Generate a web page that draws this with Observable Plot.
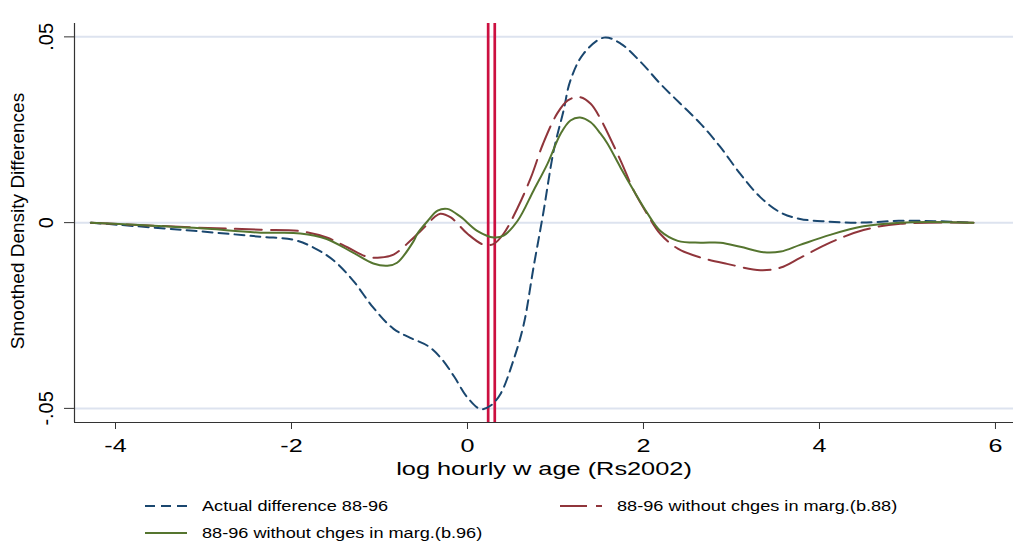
<!DOCTYPE html>
<html>
<head>
<meta charset="utf-8">
<script src="https://cdn.jsdelivr.net/npm/d3@7"></script>
<script src="https://cdn.jsdelivr.net/npm/@observablehq/plot@0.6"></script>
<style>
  html, body { margin: 0; padding: 0; background: white; }
  body { width: 1016px; height: 552px; overflow: hidden; font-family: "Liberation Sans", Arial, sans-serif; }
  #legend { position: relative; width: 1016px; height: 72px; }
  .key { position: absolute; }
  .lab { position: absolute; font-size: 15.5px; color: #000; transform-origin: left center; transform: scaleX(1.17); white-space: nowrap; line-height: 18px; }
</style>
</head>
<body>
<div id="chart"></div>
<div id="legend"></div>
<script>
// ---- data ----
const xTicks = [-4, -2, 0, 2, 4, 6];
const xTickLabels = ["-4", "-2", "0", "2", "4", "6"];
const yTicks = [-0.05, 0, 0.05];
const yTickLabels = ["-.05", "0", ".05"];
const refLines = [0.235, 0.31];
const xTitle = "log hourly w age (Rs2002)";
const yTitle = "Smoothed Density Differences";
const seriesNames = ["Actual difference 88-96", "88-96 without chges in marg.(b.88)", "88-96 without chges in marg.(b.96)"];

const actualX = [-4.28, -3.11, -2.35, -1.98, -1.75, -1.52, -1.30, -1.07, -0.84, -0.65, -0.45, -0.30, -0.15, 0.0, 0.15, 0.26, 0.375, 0.52, 0.64, 0.75, 0.86, 0.98, 1.09, 1.17, 1.32, 1.55, 1.74, 1.97, 2.19, 2.42, 2.65, 2.875, 3.10, 3.33, 3.56, 3.78, 4.09, 4.47, 4.9, 5.3, 5.75];
const actualY = [0, -0.0022, -0.0038, -0.0046, -0.0067, -0.0102, -0.0156, -0.0229, -0.0286, -0.031, -0.0332, -0.0365, -0.0415, -0.0471, -0.0502, -0.0493, -0.0461, -0.0372, -0.0273, -0.0121, 0.0024, 0.0194, 0.030, 0.0383, 0.0455, 0.0498, 0.0482, 0.0432, 0.0374, 0.032, 0.0266, 0.0203, 0.0131, 0.0068, 0.0027, 0.0010, 0.0003, 0.0, 0.0005, 0.0004, 0];

const b88X = [-4.28, -3.11, -2.35, -1.9, -1.6, -1.36, -1.14, -0.99, -0.84, -0.65, -0.53, -0.45, -0.38, -0.31, -0.19, 0.0, 0.19, 0.30, 0.41, 0.57, 0.72, 0.86, 1.02, 1.14, 1.27, 1.40, 1.51, 1.74, 1.89, 2.04, 2.19, 2.39, 2.65, 2.95, 3.33, 3.56, 3.78, 4.12, 4.5, 4.92, 5.75];
const b88Y = [0, -0.0013, -0.0019, -0.0023, -0.004, -0.0067, -0.0092, -0.0094, -0.0086, -0.0049, -0.0022, -0.0003, 0.0014, 0.0024, 0.0014, -0.003, -0.006, -0.0057, -0.003, 0.004, 0.0121, 0.0213, 0.0294, 0.0329, 0.0338, 0.032, 0.028, 0.0167, 0.0086, 0.0024, -0.003, -0.007, -0.0094, -0.0111, -0.0128, -0.0121, -0.0095, -0.0054, -0.002, -0.0003, 0];

const b96X = [-4.28, -3.11, -2.35, -1.9, -1.6, -1.3, -1.07, -0.91, -0.80, -0.61, -0.57, -0.45, -0.34, -0.23, -0.08, 0.11, 0.30, 0.41, 0.57, 0.75, 0.91, 1.06, 1.17, 1.28, 1.40, 1.51, 1.59, 1.74, 1.89, 2.04, 2.19, 2.39, 2.65, 2.875, 3.10, 3.37, 3.56, 3.78, 4.12, 4.5, 4.92, 5.75];
const b96Y = [0, -0.0014, -0.0027, -0.0029, -0.0044, -0.0081, -0.011, -0.0116, -0.0108, -0.0049, -0.003, 0.0005, 0.0032, 0.0037, 0.0016, -0.0022, -0.004, -0.0035, 0.0005, 0.0086, 0.0159, 0.024, 0.0275, 0.0283, 0.027, 0.024, 0.0213, 0.0148, 0.0086, 0.0027, -0.0022, -0.0049, -0.0054, -0.0054, -0.0065, -0.008, -0.0078, -0.006, -0.0033, -0.001, 0, 0];

const colors = ["#1a476f", "#90353b", "#55752f"];
const dashes = ["10,6", "27,9", null];

const toRows = (xs, ys) => xs.map((x, i) => ({x, y: ys[i]}));
const actual = toRows(actualX, actualY);
const b88 = toRows(b88X, b88Y);
const b96 = toRows(b96X, b96Y);

const xDomain = [-4.466, 6.205];
const yDomain = [-0.0538, 0.0536];

const chart = Plot.plot({
  width: 1016,
  height: 480,
  marginTop: 23,
  marginBottom: 58,
  marginLeft: 74,
  marginRight: 3,
  x: {domain: xDomain},
  y: {domain: yDomain},
  style: {fontFamily: "'Liberation Sans', Arial, sans-serif", background: "white", color: "black", overflow: "visible"},
  marks: [
    Plot.ruleY(yTicks, {stroke: "#dde3ef", strokeWidth: 2}),
    Plot.ruleX(refLines, {stroke: "#cc1040", strokeWidth: 2.7}),
    Plot.line(actual, {x: "x", y: "y", stroke: colors[0], strokeWidth: 2, strokeDasharray: dashes[0], curve: "catmull-rom"}),
    Plot.line(b88, {x: "x", y: "y", stroke: colors[1], strokeWidth: 2, strokeDasharray: dashes[1], curve: "catmull-rom"}),
    Plot.line(b96, {x: "x", y: "y", stroke: colors[2], strokeWidth: 2, curve: "catmull-rom"}),
    Plot.ruleX([xDomain[0]], {stroke: "#333", strokeWidth: 1.2}),
    Plot.ruleY([yDomain[0]], {stroke: "#333", strokeWidth: 1.2}),
    Plot.axisX(xTicks, {tickSize: 7, tickPadding: 10, fontSize: 18, stroke: "#333", tickFormat: (d) => xTickLabels[xTicks.indexOf(d)], label: null}),
    Plot.axisY(yTicks, {tickSize: 10, stroke: "#333", tickFormat: () => "", label: null}),
    Plot.text(yTicks, {y: (d) => d, text: (d, i) => yTickLabels[i], frameAnchor: "left", textAnchor: "middle", dx: -28, rotate: -90, fontSize: 20, lineAnchor: "middle", fill: "black"}),
    Plot.text([yTitle], {frameAnchor: "left", textAnchor: "middle", dx: -57, dy: -2, rotate: -90, fontSize: 19, lineAnchor: "middle", fill: "black"}),
    Plot.text([xTitle], {frameAnchor: "bottom", dy: 46.5, fontSize: 18.5, lineAnchor: "middle", fill: "black", className: "xtitle"})
  ]
});
document.getElementById("chart").appendChild(chart);

// horizontal stretch of horizontal texts, as in the reference rendering
function stretch(textEl, s) {
  const b = textEl.getBBox();
  const cx = b.x + b.width / 2;
  const t = textEl.getAttribute("transform") || "";
  textEl.setAttribute("transform", `${t} translate(${cx},0) scale(${s},1) translate(${-cx},0)`);
}
chart.querySelectorAll('g[aria-label="x-axis tick label"] text').forEach((t) => stretch(t, 1.4));
chart.querySelectorAll('g.xtitle text').forEach((t) => stretch(t, 1.37));

// legend
const legend = d3.select("#legend");
const items = [
  {name: seriesNames[0], color: colors[0], dash: dashes[0], left: 145, cy: 26},
  {name: seriesNames[1], color: colors[1], dash: dashes[1], left: 560, cy: 26},
  {name: seriesNames[2], color: colors[2], dash: dashes[2], left: 145, cy: 53}
];
items.forEach((it) => {
  const svg = legend.append("svg").attr("class", "key").attr("width", 42).attr("height", 6)
    .style("left", it.left + "px").style("top", (it.cy - 3) + "px");
  svg.append("line").attr("x1", 0).attr("x2", 42).attr("y1", 3).attr("y2", 3)
    .attr("stroke", it.color).attr("stroke-width", 2).attr("stroke-dasharray", it.dash);
  legend.append("div").attr("class", "lab").style("left", (it.left + 57) + "px").style("top", (it.cy - 9) + "px").text(it.name);
});
</script>
</body>
</html>
